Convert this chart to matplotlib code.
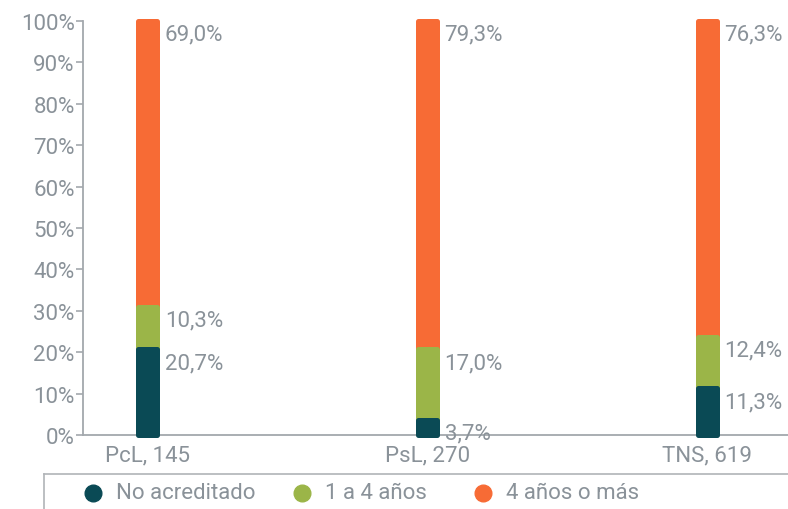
import numpy as np
import matplotlib
matplotlib.use("Agg")
import matplotlib.pyplot as plt
from matplotlib.lines import Line2D

plt.rcParams['font.family'] = ['Roboto', 'DejaVu Sans']

# data
categories = ['PcL, 145', 'PsL, 270', 'TNS, 619']
series_names = ['No acreditado', '1 a 4 años', '4 años o más']
no_acreditado = [20.7, 3.7, 11.3]
uno_a_cuatro = [10.3, 17.0, 12.4]
cuatro_o_mas = [69.0, 79.3, 76.3]
y_ticks = [0, 10, 20, 30, 40, 50, 60, 70, 80, 90, 100]

colors = ['#0a4a55', '#9bb548', '#f76b35']
txt = '#8a9299'
axcol = '#a3a8ad'
fs = 16

fig = plt.figure(figsize=(7.88, 5.10), dpi=100)
ax = fig.add_axes([83/788, 74/510, 1 - 83/788, 414/510])

x = np.arange(len(categories))
w = 0.068
lw = 3.6
series = [no_acreditado, uno_a_cuatro, cuatro_o_mas]
bottoms = [np.zeros(3), np.array(no_acreditado), np.array(no_acreditado) + np.array(uno_a_cuatro)]

# draw orange first so the lower segments sit on top of it
for i in [2, 1, 0]:
    ax.bar(x, series[i], w, bottom=bottoms[i], color=colors[i], edgecolor=colors[i],
           linewidth=lw, joinstyle='round', zorder=2 + (2 - i), clip_on=False)

# value labels at the top of each segment
for i in range(3):
    for j in range(3):
        top = bottoms[i][j] + series[i][j]
        lab = ('%.1f%%' % series[i][j]).replace('.', ',')
        ax.annotate(lab, (x[j], top), xytext=(12.5, -2), textcoords='offset points',
                    ha='left', va='top', fontsize=fs, color=txt)

ax.set_xlim(-0.230, 2.289)
ax.set_ylim(0, 100)
ax.set_yticks(y_ticks)
ax.set_yticklabels(['%d%%' % t for t in y_ticks])
ax.set_xticks(x)
ax.set_xticklabels(categories)
ax.tick_params(axis='y', length=5, width=1.2, color=axcol, labelcolor=txt, labelsize=fs, pad=1)
ax.tick_params(axis='x', length=0, labelcolor=txt, labelsize=fs, pad=7)
for s in ['top', 'right']:
    ax.spines[s].set_visible(False)
for s in ['left', 'bottom']:
    ax.spines[s].set_color(axcol)
    ax.spines[s].set_linewidth(1.3)

# legend frame (top and left lines only)
fig.add_artist(Line2D([44/788, 1], [1 - 475/510, 1 - 475/510], color='#b0b4b8', lw=1.2))
fig.add_artist(Line2D([44/788, 44/788], [0, 1 - 475/510], color='#b0b4b8', lw=1.2))

leg_marker_x = [93, 302, 483]
leg_y = 1 - 494/510
for i in range(3):
    fig.add_artist(Line2D([leg_marker_x[i]/788], [leg_y], marker='o', markersize=12,
                          color=colors[i], linestyle='none'))
    fig.text((leg_marker_x[i] + 23)/788, leg_y, series_names[i], fontsize=fs, color=txt,
             ha='left', va='center')

fig.savefig('out.png', dpi=100)
